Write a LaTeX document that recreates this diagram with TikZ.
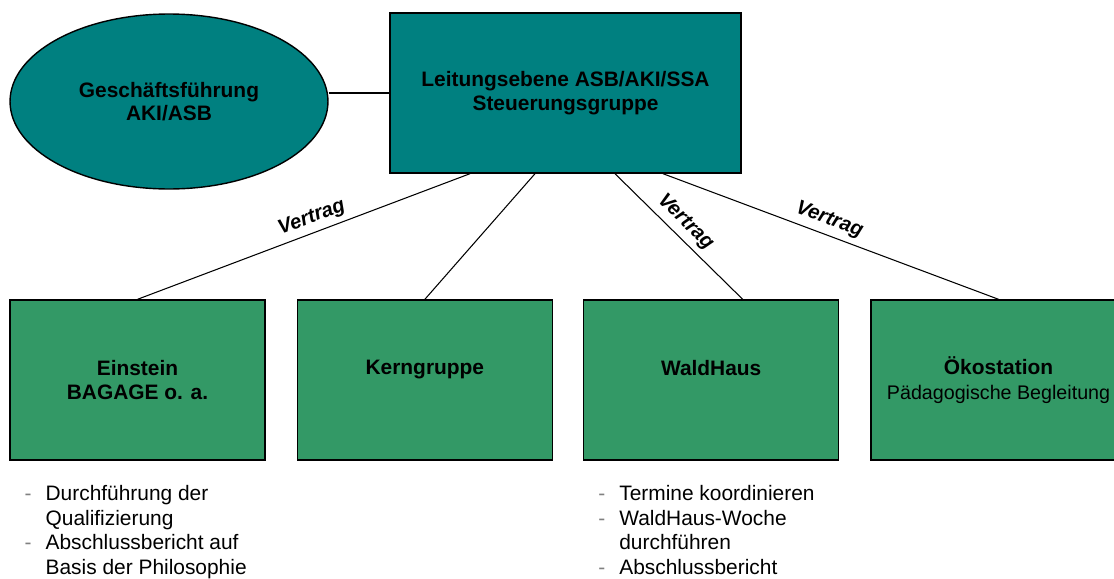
\documentclass[tikz,border=0pt]{standalone}
\usepackage{fontspec}
\setmainfont{Liberation Sans}
\usetikzlibrary{shapes.geometric,positioning}

\definecolor{leitungteal}{RGB}{0,128,128}
\definecolor{partnergreen}{RGB}{51,153,102}

\begin{document}
\begin{tikzpicture}[
    x=0.02cm, y=-0.02cm,
    headbox/.style={rectangle, draw, line width=0.8pt, fill=leitungteal, minimum width=7.02cm, minimum height=3.2cm, align=center, font=\bfseries\fontsize{11.9}{13.5}\selectfont},
    headoval/.style={ellipse, draw, line width=0.8pt, fill=leitungteal, minimum width=6.36cm, minimum height=3.5cm, inner sep=0pt, align=center, font=\bfseries\fontsize{11.9}{13}\selectfont},
    partner/.style={rectangle, draw, line width=0.8pt, fill=partnergreen, minimum width=5.1cm, minimum height=3.2cm, align=center, font=\bfseries\fontsize{11.9}{14}\selectfont},
    duty/.style={anchor=base west, inner sep=0pt, font=\fontsize{11.9}{14}\selectfont},
    contract/.style={above, sloped, inner sep=3pt, font=\bfseries\itshape\fontsize{11.5}{12}\selectfont}
]
\useasboundingbox (0,0) rectangle (1114,578);

% Leitung
\node[headbox] (leitung) at (565.5,93) {Leitungsebene ASB/AKI/SSA\\Steuerungsgruppe};
\node[headoval] (gf) at (169,101.5) {Geschäftsführung\\AKI/ASB};

% Partner
\node[partner] (einstein) at (137.5,380) {Einstein\\BAGAGE o. a.};
\node[partner, right=0.62cm of einstein] (kern) {Kerngruppe\\~};
\node[partner, right=0.6cm of kern] (waldhaus) {WaldHaus\\~};
\node[partner, right=0.62cm of waldhaus] (oeko) {Ökostation\\{\mdseries\fontsize{11.2}{14}\selectfont Pädagogische Begleitung}};

% Aufgaben
\node[duty, below right=0.8cm and 0.3cm of einstein.south west, anchor=base west] (einsteintasks) {%
    \begin{tabular}[t]{@{}l@{\hspace{0.28cm}}l@{}}
    {\color{gray}-} & Durchführung der\\
                    & Qualifizierung\\
    {\color{gray}-} & Abschlussbericht auf\\
                    & Basis der Philosophie
    \end{tabular}};
\node[duty, below right=0.8cm and 0.3cm of waldhaus.south west, anchor=base west] (waldhaustasks) {%
    \begin{tabular}[t]{@{}l@{\hspace{0.28cm}}l@{}}
    {\color{gray}-} & Termine koordinieren\\
    {\color{gray}-} & WaldHaus-Woche\\
                    & durchführen\\
    {\color{gray}-} & Abschlussbericht
    \end{tabular}};

% Verbindungen
\draw[line width=0.6pt] (gf.east |- leitung.west) -- (leitung.west);
\draw[line width=0.6pt] ([xshift=-1.91cm]leitung.south) -- (einstein.north) node[contract, pos=0.46] {Vertrag};
\draw[line width=0.6pt] ([xshift=-0.61cm]leitung.south) -- (kern.north);
\draw[line width=0.6pt] ([xshift=0.99cm]leitung.south) -- ([xshift=0.63cm]waldhaus.north) node[contract, pos=0.47] {Vertrag};
\draw[line width=0.6pt] ([xshift=1.95cm]leitung.south) -- (oeko.north) node[contract, pos=0.48] {Vertrag};

\end{tikzpicture}
\end{document}
